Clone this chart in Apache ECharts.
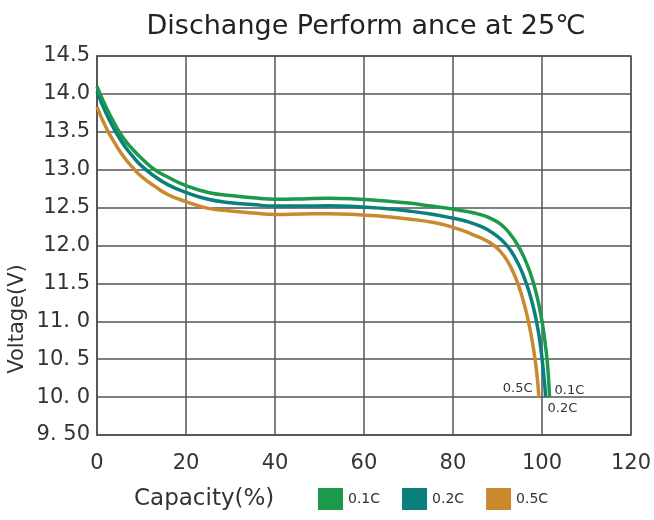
<!DOCTYPE html>
<html>
<head>
<meta charset="utf-8">
<script src="https://cdn.jsdelivr.net/npm/echarts@6/dist/echarts.min.js"></script>
<style>html,body{margin:0;padding:0;background:#fff}#c{width:654px;height:520px}</style>
</head>
<body>
<div id="c"></div>
<script>
const seriesNames = ['0.1C', '0.2C', '0.5C'];
const seriesColors = ['#1c9a4c', '#0b7f7c', '#c98a2e'];

const cap01 = [0, 2, 4, 6, 8, 10, 13, 16, 20, 25, 30, 35, 40, 46, 52, 58, 64, 70, 75, 80, 83, 86, 88, 90, 91.5, 93, 94.5, 96, 97.3, 98.4, 99.3, 100.1, 100.7, 101.2, 101.5, 101.7];
const volt01 = [14.10, 13.83, 13.60, 13.41, 13.27, 13.15, 13.00, 12.90, 12.79, 12.70, 12.66, 12.63, 12.61, 12.615, 12.625, 12.615, 12.59, 12.56, 12.52, 12.48, 12.45, 12.41, 12.37, 12.31, 12.24, 12.14, 12.01, 11.84, 11.65, 11.44, 11.22, 10.97, 10.72, 10.46, 10.22, 10.0];

const cap02 = [0, 2, 4, 6, 8, 10, 13, 16, 20, 25, 30, 35, 40, 46, 52, 58, 64, 70, 75, 80, 83, 86, 88, 90, 91.5, 93, 94.5, 95.8, 97, 98, 98.8, 99.5, 100, 100.4, 100.7, 100.8];
const volt02 = [14.03, 13.75, 13.52, 13.33, 13.18, 13.05, 12.91, 12.80, 12.70, 12.61, 12.565, 12.54, 12.52, 12.52, 12.525, 12.515, 12.49, 12.455, 12.415, 12.36, 12.32, 12.26, 12.20, 12.12, 12.04, 11.93, 11.78, 11.61, 11.41, 11.20, 10.99, 10.75, 10.52, 10.29, 10.10, 10.0];

const cap05 = [0, 2, 4, 6, 8, 10, 13, 16, 20, 25, 30, 35, 40, 46, 52, 58, 64, 70, 76, 80, 83, 85, 87, 89, 90.7, 92.2, 93.6, 94.8, 95.9, 96.8, 97.6, 98.3, 98.8, 99.1, 99.3];
const volt05 = [13.83, 13.56, 13.35, 13.17, 13.03, 12.91, 12.78, 12.67, 12.58, 12.49, 12.455, 12.43, 12.41, 12.415, 12.42, 12.41, 12.385, 12.35, 12.30, 12.24, 12.18, 12.13, 12.08, 12.01, 11.92, 11.80, 11.64, 11.46, 11.25, 11.04, 10.81, 10.56, 10.33, 10.16, 10.0];

const yTickLabels = {'14.5':'14.5','14':'14.0','13.5':'13.5','13':'13.0','12.5':'12.5','12':'12.0','11.5':'11.5','11':'11. 0','10.5':'10. 5','10':'10. 0','9.5':'9. 50'};
const xTickLabels = ['0', '20', '40', '60', '80', '100', '120'];

const titleText = 'Dischange Perform ance at 25℃';
const xName = 'Capacity(%)';
const yName = 'Voltage(V)';

const caps = [cap01, cap02, cap05];
const volts = [volt01, volt02, volt05];
const endOffsets = [[-3, -6], [-6, 12], [-44, -8]];

const FONT = 'DejaVu Sans';
const chart = echarts.init(document.getElementById('c'), null, {renderer: 'canvas'});

const series = seriesNames.map((name, i) => ({
  name: name,
  type: 'line',
  smooth: true,
  showSymbol: false,
  symbol: 'none',
  data: caps[i].map((c, j) => [c, volts[i][j]]),
  lineStyle: {color: seriesColors[i], width: 3.5},
  itemStyle: {color: seriesColors[i]},
  endLabel: {
    show: true,
    formatter: name,
    color: '#333',
    fontFamily: FONT,
    fontSize: 13,
    offset: endOffsets[i]
  },
  z: 3 - i
}));

chart.setOption({
  animation: false,
  backgroundColor: '#fff',
  title: {
    text: titleText,
    left: 361,
    top: 8,
    textAlign: 'center',
    textStyle: {fontFamily: FONT, fontSize: 27, fontWeight: 'normal', color: '#222'}
  },
  grid: {left: 97, right: 22, top: 56, bottom: 85, show: true, borderColor: '#555', borderWidth: 1.5, backgroundColor: 'transparent'},
  legend: {
    left: 313,
    top: 483,
    icon: 'rect',
    itemWidth: 25,
    itemHeight: 22,
    itemGap: 22,
    data: seriesNames,
    textStyle: {fontFamily: FONT, fontSize: 14, color: '#333'}
  },
  xAxis: {
    type: 'value',
    min: 0,
    max: 120,
    interval: 20,
    axisLine: {show: true, lineStyle: {color: '#555', width: 1.5}},
    axisTick: {show: false},
    splitLine: {show: true, lineStyle: {color: '#555', width: 1.5}},
    axisLabel: {
      margin: 18,
      fontFamily: FONT,
      fontSize: 21,
      color: '#333',
      formatter: v => xTickLabels[Math.round(v / 20)]
    }
  },
  yAxis: {
    type: 'value',
    min: 9.5,
    max: 14.5,
    interval: 0.5,
    axisLine: {show: true, lineStyle: {color: '#555', width: 1.5}},
    axisTick: {show: false},
    splitLine: {show: true, lineStyle: {color: '#555', width: 1.5}},
    axisLabel: {
      margin: 7,
      fontFamily: FONT,
      fontSize: 21,
      color: '#333',
      formatter: v => yTickLabels[String(Math.round(v * 10) / 10)]
    }
  },
  graphic: [
    {type: 'text', left: 134, top: 488, style: {text: xName, fontFamily: FONT, fontSize: 23, fill: '#333'}},
    {type: 'text', x: 18, y: 319, rotation: Math.PI / 2, style: {text: yName, fontFamily: FONT, fontSize: 21, fill: '#333', align: 'center', verticalAlign: 'middle'}}
  ],
  series: series
});
</script>
</body>
</html>
